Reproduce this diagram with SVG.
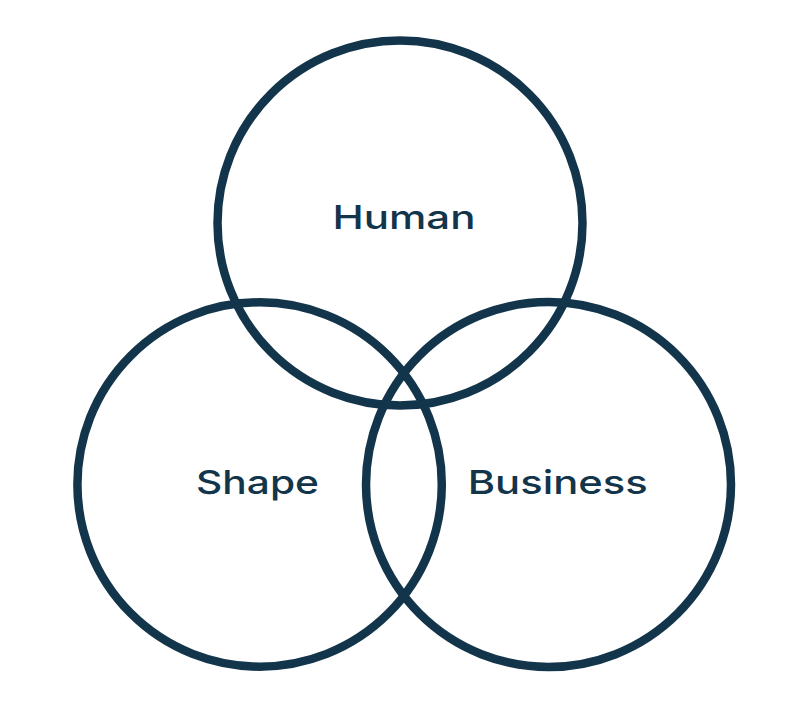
<svg xmlns="http://www.w3.org/2000/svg" width="786" height="728" viewBox="0 0 786 728">
  <style>
    .ring { fill: none; stroke: #13354b; stroke-width: 8.5; }
    .label { font-family: "Inter", "Lato", "Liberation Sans", sans-serif; font-size: 33px; font-weight: 500; fill: #13354b; text-anchor: middle; }
  </style>
  <rect width="786" height="728" fill="#ffffff"/>
  <g id="human">
    <circle class="ring" cx="400" cy="223" r="182.5"/>
    <text class="label" x="404" y="228.5" textLength="143" lengthAdjust="spacingAndGlyphs">Human</text>
  </g>
  <g id="shape">
    <circle class="ring" cx="259.6" cy="484.5" r="182.2"/>
    <text class="label" x="257.5" y="493.5" textLength="123" lengthAdjust="spacingAndGlyphs">Shape</text>
  </g>
  <g id="business">
    <circle class="ring" cx="548.5" cy="484.5" r="182.5"/>
    <text class="label" x="557.7" y="493.5" textLength="180" lengthAdjust="spacingAndGlyphs">Business</text>
  </g>
  <g id="connectors"></g>
</svg>
